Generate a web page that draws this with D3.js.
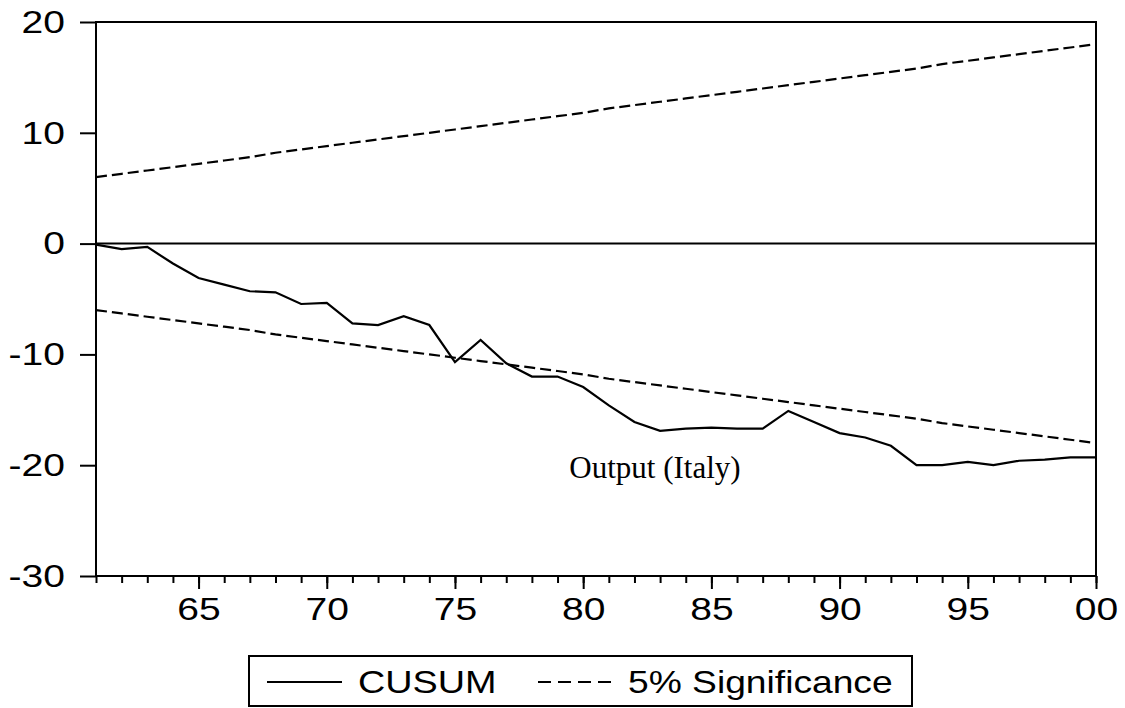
<!DOCTYPE html>
<html>
<head>
<meta charset="utf-8">
<script src="https://cdn.jsdelivr.net/npm/d3@7"></script>
<style>
  body { margin: 0; background: #fff; }
  svg { display: block; }
</style>
</head>
<body>
<div id="root"></div>
<script>
// years 1961..2000
var years = d3.range(1961, 2001);

// CUSUM
var cusum = [-0.1, -0.5, -0.3, -1.8, -3.1, -3.7, -4.3, -4.4, -5.45, -5.35,
             -7.2, -7.35, -6.55, -7.35, -10.7, -8.7, -10.8, -12.0, -12.0, -12.95,
             -14.6, -16.1, -16.9, -16.7, -16.6, -16.7, -16.7, -15.1, -16.1, -17.1,
             -17.5, -18.25, -20.0, -20.0, -19.7, -20.0, -19.6, -19.5, -19.3, -19.3];

// 5% significance bands
var upper = [6.0, 6.3, 6.6, 6.9, 7.2, 7.5, 7.8, 8.2, 8.5, 8.8,
             9.1, 9.4, 9.7, 10.0, 10.3, 10.6, 10.9, 11.2, 11.5, 11.8,
             12.2, 12.5, 12.8, 13.1, 13.4, 13.7, 14.0, 14.3, 14.6, 14.9,
             15.2, 15.5, 15.8, 16.2, 16.5, 16.8, 17.1, 17.4, 17.7, 18.0];
var lower = [-6.0, -6.3, -6.6, -6.9, -7.2, -7.5, -7.8, -8.2, -8.5, -8.8,
             -9.1, -9.4, -9.7, -10.0, -10.3, -10.6, -10.9, -11.2, -11.5, -11.8,
             -12.2, -12.5, -12.8, -13.1, -13.4, -13.7, -14.0, -14.3, -14.6, -14.9,
             -15.2, -15.5, -15.8, -16.2, -16.5, -16.8, -17.1, -17.4, -17.7, -18.0];

var yTicks = [20, 10, 0, -10, -20, -30];
var xMajor = [1965, 1970, 1975, 1980, 1985, 1990, 1995, 2000];
var annotation = "Output (Italy)";
var legendLabels = ["CUSUM", "5% Significance"];

var W = 1125, H = 708;
var margin = { top: 22, right: 29, bottom: 132, left: 96 };
var width = W - margin.left - margin.right;
var height = H - margin.top - margin.bottom;
var sx = 1.22; // the original text is drawn wide
var sansFont = "'Liberation Sans', Arial, sans-serif";

var svg = d3.select("#root")
    .append("svg")
    .attr("width", W)
    .attr("height", H);

var graph = svg.append("g")
    .attr("transform", "translate(" + margin.left + "," + margin.top + ")");

var x = d3.scaleLinear().domain([1961, 2000]).range([0, width]);
var y = d3.scaleLinear().domain([-30, 20]).range([height, 0]);

// minor year ticks
var minor = graph.append("g")
    .attr("transform", "translate(0," + height + ")")
    .call(d3.axisBottom(x).tickValues(years).tickSize(7).tickFormat(""));
minor.select(".domain").remove();
minor.selectAll("line").attr("stroke-width", 2);

// major ticks + labels
var major = graph.append("g")
    .attr("transform", "translate(0," + height + ")")
    .call(d3.axisBottom(x).tickValues(xMajor).tickSize(13).tickPadding(8)
        .tickFormat(function(d) { return d3.format("02d")(d % 100); }));
major.select(".domain").remove();
major.selectAll("line").attr("stroke-width", 2);
major.selectAll("text")
    .attr("font-family", sansFont)
    .attr("font-size", 32)
    .attr("fill", "#000")
    .attr("transform", "scale(" + sx + ",1)");

// left axis (plain hyphen minus, as in the original)
var left = graph.append("g")
    .call(d3.axisLeft(y).tickValues(yTicks).tickSize(16).tickPadding(15)
        .tickFormat(function(d) { return String(d); }));
left.select(".domain").remove();
left.selectAll("line").attr("stroke-width", 2);
left.selectAll("text")
    .attr("font-family", sansFont)
    .attr("font-size", 32)
    .attr("fill", "#000")
    .attr("x", -31 / sx)
    .attr("transform", "scale(" + sx + ",1)");

// plot frame
graph.append("rect")
    .attr("width", width)
    .attr("height", height)
    .attr("fill", "none")
    .attr("stroke", "#000")
    .attr("stroke-width", 2);

// zero line
graph.append("line")
    .attr("x1", 0).attr("x2", width)
    .attr("y1", y(0)).attr("y2", y(0))
    .attr("stroke", "#000")
    .attr("stroke-width", 2);

var line = function(vals) {
    return d3.line()
        .x(function(d, i) { return x(years[i]); })
        .y(function(d) { return y(d); })(vals);
};

// significance bands
[upper, lower].forEach(function(band) {
    graph.append("path")
        .attr("d", line(band))
        .attr("fill", "none")
        .attr("stroke", "#000")
        .attr("stroke-width", 2.2)
        .attr("stroke-dasharray", "11,5");
});

// CUSUM
graph.append("path")
    .attr("d", line(cusum))
    .attr("fill", "none")
    .attr("stroke", "#000")
    .attr("stroke-width", 2.2)
    .attr("stroke-linejoin", "miter");

// annotation
graph.append("text")
    .attr("x", x(1982.8))
    .attr("y", y(-21.2))
    .attr("text-anchor", "middle")
    .attr("font-family", "'Liberation Serif', 'Times New Roman', serif")
    .attr("font-size", 31)
    .text(annotation);

// legend
var legend = svg.append("g");
legend.append("rect")
    .attr("x", 249).attr("y", 656)
    .attr("width", 663).attr("height", 50)
    .attr("fill", "none")
    .attr("stroke", "#000")
    .attr("stroke-width", 2);

legend.append("line")
    .attr("x1", 267).attr("x2", 342)
    .attr("y1", 682).attr("y2", 682)
    .attr("stroke", "#000").attr("stroke-width", 2);
legend.append("text")
    .attr("transform", "translate(358,693) scale(" + sx + ",1)")
    .attr("font-family", sansFont)
    .attr("font-size", 31)
    .text(legendLabels[0]);

legend.append("line")
    .attr("x1", 538).attr("x2", 614)
    .attr("y1", 682).attr("y2", 682)
    .attr("stroke", "#000").attr("stroke-width", 2)
    .attr("stroke-dasharray", "13,7");
legend.append("text")
    .attr("transform", "translate(628,693) scale(" + (sx - 0.02) + ",1)")
    .attr("font-family", sansFont)
    .attr("font-size", 31)
    .text(legendLabels[1]);
</script>
</body>
</html>
